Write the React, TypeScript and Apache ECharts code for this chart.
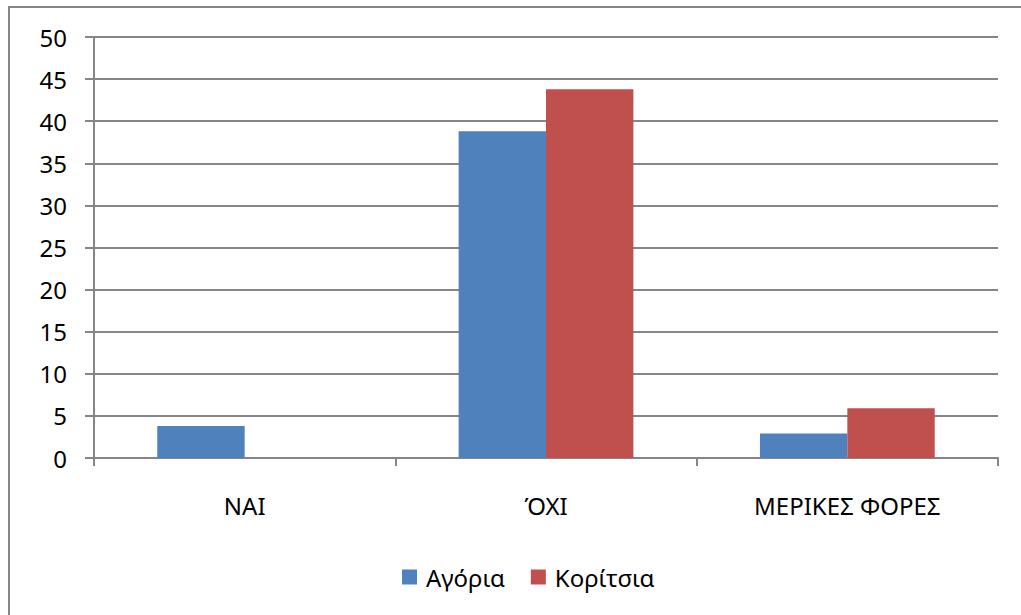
import React, { useEffect, useRef } from "react";
import * as echarts from "echarts";

const categories = ["ΝΑΙ", "ΌΧΙ", "ΜΕΡΙΚΕΣ ΦΟΡΕΣ"];
const boys = [3.8, 38.8, 2.9];
const girls = [0, 43.8, 5.9];
const seriesNames = ["Αγόρια", "Κορίτσια"];

const FONT = "'Noto Sans', 'Open Sans', sans-serif";

export default function App() {
  const ref = useRef<HTMLDivElement>(null);
  useEffect(() => {
    if (!ref.current) return;
    const chart = echarts.init(ref.current, undefined, { renderer: "svg" });
    chart.setOption({
      animation: false,
      backgroundColor: "#ffffff",
      textStyle: { fontFamily: FONT },
      graphic: [
        {
          type: "rect",
          shape: { x: 9, y: 7, width: 1030, height: 640 },
          style: { fill: "none", stroke: "#868686", lineWidth: 2 },
          silent: true,
        },
      ],
      grid: { left: 94, right: 23, top: 37, bottom: 157 },
      legend: {
        data: seriesNames,
        left: 397,
        top: 560,
        itemWidth: 15,
        itemHeight: 15,
        itemGap: 26,
        icon: "rect",
        textStyle: { fontFamily: FONT, fontSize: 24, color: "#000", padding: [0, 0, 0, 4] },
      },
      xAxis: {
        type: "category",
        data: categories,
        axisLine: { show: true, lineStyle: { color: "#868686", width: 2 } },
        axisTick: { show: true, length: 8, lineStyle: { color: "#868686", width: 2 } },
        axisLabel: { fontFamily: FONT, fontSize: 24, color: "#000", margin: 35 },
      },
      yAxis: {
        type: "value",
        min: 0,
        max: 50,
        interval: 5,
        axisLine: { show: true, lineStyle: { color: "#868686", width: 2 } },
        axisTick: { show: true, length: 9, lineStyle: { color: "#868686", width: 2 } },
        axisLabel: { fontFamily: FONT, fontSize: 24, color: "#000", margin: 27 },
        splitLine: { show: true, lineStyle: { color: "#868686", width: 2 } },
      },
      series: [
        {
          name: seriesNames[0],
          type: "bar",
          data: boys,
          barGap: "0%",
          barCategoryGap: "42%",
          itemStyle: { color: "#4F81BD" },
        },
        {
          name: seriesNames[1],
          type: "bar",
          data: girls,
          itemStyle: { color: "#C0504D" },
        },
      ],
    });
    return () => chart.dispose();
  }, []);
  return (
    <div
      ref={ref}
      style={{ position: "fixed", left: 0, top: 0, width: 1021, height: 615 }}
    />
  );
}
